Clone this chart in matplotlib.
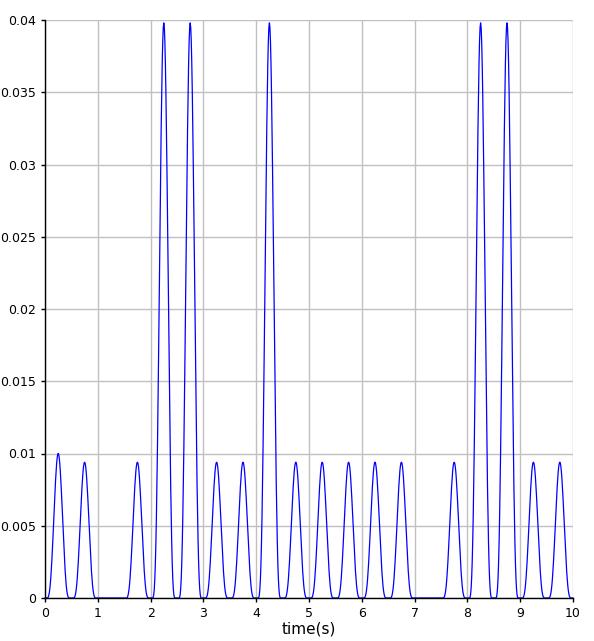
import numpy as np
import matplotlib
matplotlib.use("Agg")
import matplotlib.pyplot as plt

# one pulse every half second; peak height of each pulse
slot_len = 0.5
pulse_width = 0.43
peaks = [0.0100, 0.0094, 0.0, 0.0094, 0.0398, 0.0398, 0.0094, 0.0094,
         0.0398, 0.0094, 0.0094, 0.0094, 0.0094, 0.0094, 0.0, 0.0094,
         0.0398, 0.0398, 0.0094, 0.0094]

xticks = list(range(0, 11))
yticks = [0, 0.005, 0.01, 0.015, 0.02, 0.025, 0.03, 0.035, 0.04]
ytick_labels = ["0", "0.005", "0.01", "0.015", "0.02", "0.025", "0.03", "0.035", "0.04"]

# sin^3 pulse shape centred in each slot
t = np.linspace(0, slot_len * len(peaks), 1001)
idx = np.minimum((t // slot_len).astype(int), len(peaks) - 1)
amp = np.array(peaks)[idx]
u = (t - (idx + 0.5) * slot_len) / pulse_width + 0.5
u = np.clip(u, 0, 1)
y = amp * np.sin(np.pi * u) ** 3

fig = plt.figure(figsize=(5.94, 6.41), dpi=100)
ax = fig.add_axes([45 / 594, 1 - 598 / 641, 528 / 594, 578 / 641])

ax.plot(t, y, color="#0000ff", linewidth=0.9, antialiased=True, clip_on=False)

ax.set_xlim(0, 10)
ax.set_ylim(0, 0.04)
ax.set_xticks(xticks)
ax.set_yticks(yticks)
ax.set_yticklabels(ytick_labels)
ax.grid(True, color="#c0c0c0", linewidth=1.0)
ax.set_axisbelow(True)
for s in ["top", "right"]:
    ax.spines[s].set_visible(False)
ax.spines["left"].set_linewidth(1.0)
ax.spines["bottom"].set_linewidth(1.0)
ax.tick_params(direction="out", length=3, width=1, labelsize=9)
ax.set_xlabel("time(s)", fontsize=11, labelpad=1)

fig.savefig("out.png", dpi=100)
